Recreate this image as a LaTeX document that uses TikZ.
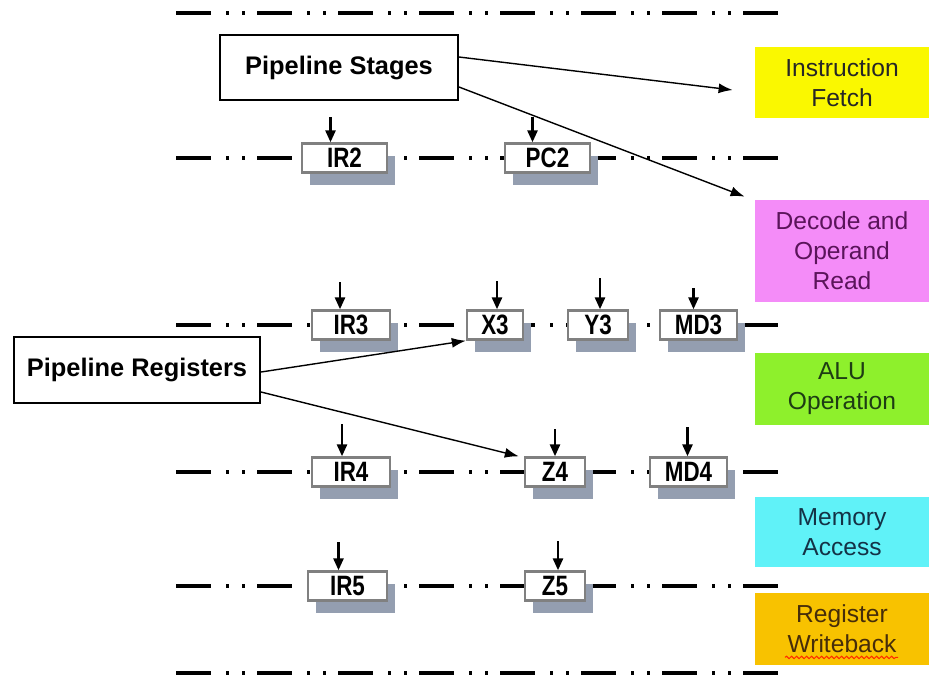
\documentclass[tikz,border=0pt]{standalone}
\usepackage{fontspec}
\setmainfont{Liberation Sans}
\newfontfamily\regfont{Liberation Sans}[FakeStretch=0.8]
\usetikzlibrary{arrows.meta, positioning, shadows, decorations.pathmorphing}

\definecolor{fetchyellow}{RGB}{250, 248, 0}
\definecolor{decodepink}{RGB}{244, 140, 248}
\definecolor{alugreen}{RGB}{142, 240, 44}
\definecolor{memcyan}{RGB}{96, 242, 248}
\definecolor{wborange}{RGB}{248, 194, 0}
\definecolor{regshadow}{RGB}{148, 158, 176}
\definecolor{regframe}{RGB}{128, 128, 128}

\begin{document}
\begin{tikzpicture}[
                x=0.5pt, y=-0.5pt,
                busline/.style={
                    line width=2pt,
                    dash pattern=on 17.5pt off 7.5pt on 1.5pt off 6.5pt on 1.5pt off 6pt
                },
                regbox/.style={
                    rectangle,
                    draw=regframe,
                    line width=1.2pt,
                    fill=white,
                    minimum width=#1,
                    minimum height=14.5pt,
                    inner sep=0pt,
                    font=\regfont\bfseries\fontsize{14}{14}\selectfont,
                    drop shadow={shadow xshift=4pt, shadow yshift=-6pt,
                        fill=regshadow, opacity=1}
                },
                stagebox/.style={
                    rectangle,
                    minimum width=87pt,
                    inner sep=0pt,
                    align=center,
                    font=\fontsize{12.3}{15}\selectfont
                },
                notebox/.style={
                    rectangle,
                    draw=black,
                    line width=1pt,
                    fill=white,
                    inner sep=0pt,
                    font=\bfseries\fontsize{12.7}{15}\selectfont
                },
                feed/.style={-{Triangle[length=6pt, width=5pt]}, line width=1.3pt},
                pointer/.style={-{Latex[length=7pt, width=5pt]}, line width=0.7pt},
                wavy/.style={draw=red!70!orange, line width=0.5pt, decorate,
                    decoration={snake, amplitude=0.6pt, segment length=2.5pt}}
            ]

            \useasboundingbox (0,0) rectangle (930,677);

            % Stage boundaries
            \foreach \y in {13, 158, 325, 472, 586, 673}
                \draw [busline] (176,\y) -- (782,\y);

            % Registers
            \node (ir2) [regbox=42.5pt] at (344.5,158) {IR2};
            \node (pc2) [regbox=42.5pt] at (547.5,158) {PC2};

            \node (ir3) [regbox=39pt] at (351,325) {IR3};
            \node (x3) [regbox=28pt] at (495,325) {X3};
            \node (y3) [regbox=30pt] at (598,325) {Y3};
            \node (md3) [regbox=38.5pt] at (698.5,325) {MD3};

            \node (ir4) [regbox=39pt] at (351,472) {IR4};
            \node (z4) [regbox=30pt] at (555,472) {Z4};
            \node (md4) [regbox=38.5pt] at (688.5,472) {MD4};

            \node (ir5) [regbox=39.5pt] at (347.5,586) {IR5};
            \node (z5) [regbox=30pt] at (555,586) {Z5};

            % Clock inputs
            \foreach \r/\dx/\h in {ir2/-14/25, pc2/-15/25, ir3/-11/27, x3/2/28,
                y3/2/31, md3/-5/21, ir4/-9/32, z4/0/27, md4/-1/29, ir5/-9/28, z5/3/29}
            {
                \coordinate (\r-src) at ([xshift=\dx*0.5pt, yshift=\h*0.5pt]\r.north);
                \draw [feed] (\r-src) -- (\r-src |- \r.north);
            }

            % Stages
            \node (fetch) [stagebox, fill=fetchyellow, minimum height=35.5pt,
            text=black!85] at (842,82.5) {Instruction\\Fetch};

            \node (decode) [stagebox, fill=decodepink, minimum height=51pt,
            text={rgb,255:red,90;green,20;blue,90}] at (842,251)
            {Decode and\\Operand\\Read};

            \node (alu) [stagebox, fill=alugreen, minimum height=36pt,
            text={rgb,255:red,30;green,60;blue,20}] at (842,389) {ALU\\Operation};

            \node (memacc) [stagebox, fill=memcyan, minimum height=35pt,
            text={rgb,255:red,20;green,50;blue,70}] at (842,532) {Memory\\Access};

            \node (writeback) [stagebox, fill=wborange, minimum height=36pt,
            text={rgb,255:red,70;green,45;blue,10}] at (842,629) {Register\\Writeback};

            % Callouts
            \node (stages) [notebox, minimum width=119pt, minimum height=32.5pt]
            at (339,67.5) {Pipeline Stages};

            \node (regs) [notebox, minimum width=123pt, minimum height=33pt]
            at (137,370) {Pipeline Registers};

            % Arrows
            \draw [pointer] ([yshift=5.25pt]stages.east) -- ([xshift=-11pt, yshift=-3.75pt]fetch.west);
            \draw [pointer] ([yshift=-9.75pt]stages.east) -- ([xshift=-5pt, yshift=1.5pt]decode.north west);
            \draw [pointer] ([yshift=-1pt]regs.east) -- (x3.south west);
            \draw [pointer] ([yshift=-11pt]regs.east) -- ([xshift=-2.5pt]z4.north west);

            \draw [wavy] ([xshift=-28.5pt, yshift=4pt]writeback.south)
            -- ([xshift=28pt, yshift=4pt]writeback.south);

            \end{tikzpicture}
\end{document}
